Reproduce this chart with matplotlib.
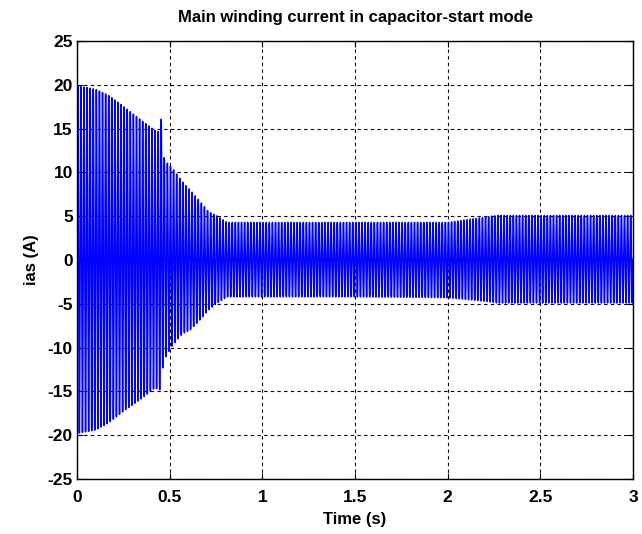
import numpy as np
import matplotlib
matplotlib.use('Agg')
import matplotlib.pyplot as plt

# envelope of the main winding current (time s, peak A)
env_t     = [0.0, 0.10, 0.17, 0.26, 0.35, 0.42, 0.445, 0.454, 0.465, 0.48, 0.51, 0.57, 0.61, 0.66, 0.71, 0.75, 0.81, 0.90, 1.5, 2.0, 2.1, 2.2, 2.27, 2.5, 3.0]
env_upper = [19.9, 19.5, 18.8, 17.4, 15.9, 14.8, 14.6, 16.1, 12.0, 11.2, 10.6, 8.9, 8.0, 6.8, 5.5, 5.1, 4.3, 4.3, 4.3, 4.3, 4.6, 4.9, 5.1, 5.1, 5.1]
env_lower = [-19.8, -19.4, -18.6, -17.1, -15.8, -14.6, -14.8, -14.9, -11.5, -11.0, -9.9, -8.4, -8.0, -6.9, -5.7, -5.0, -4.2, -4.2, -4.2, -4.3, -4.5, -4.7, -4.9, -4.9, -4.9]
f_supply = 60.0  # Hz

x_ticks = [0, 0.5, 1, 1.5, 2, 2.5, 3]
y_ticks = [-25, -20, -15, -10, -5, 0, 5, 10, 15, 20, 25]

plt.rcParams['font.family'] = ['Liberation Sans', 'DejaVu Sans']
plt.rcParams['font.weight'] = 'bold'
plt.rcParams['axes.unicode_minus'] = False

t = np.linspace(0, 3, 90001)
up = np.interp(t, env_t, env_upper)
lo = np.interp(t, env_t, env_lower)
ias = (up + lo) / 2 + (up - lo) / 2 * np.sin(2 * np.pi * f_supply * t)

fig = plt.figure(figsize=(6.42, 5.34), dpi=100)
ax = fig.add_axes([0.12, 0.103, 0.866, 0.82])
ax.plot(t, ias, color=(0, 0, 1), lw=1.1)

ax.set_xlim(0, 3)
ax.set_ylim(-25, 25)
ax.set_xticks(x_ticks)
ax.set_xticklabels([('%g' % v) for v in x_ticks])
ax.set_yticks(y_ticks)
ax.grid(True, color='black', linestyle=(0, (3, 3)), lw=0.8)
ax.tick_params(direction='in', top=True, right=True, labelsize=12.5, length=4, width=0.8, pad=3)
ax.tick_params(axis='x', pad=8)
for s in ax.spines.values():
    s.set_linewidth(1.0)
for lab in ax.get_xticklabels() + ax.get_yticklabels():
    lab.set_fontweight('bold')

ax.set_title('Main winding current in capacitor-start mode', fontsize=12, fontweight='bold', pad=14)
ax.set_xlabel('Time (s)', fontsize=12, fontweight='bold', labelpad=5)
ax.set_ylabel('ias (A)', fontsize=12, fontweight='bold', labelpad=6)

fig.savefig('out.png', dpi=100)
